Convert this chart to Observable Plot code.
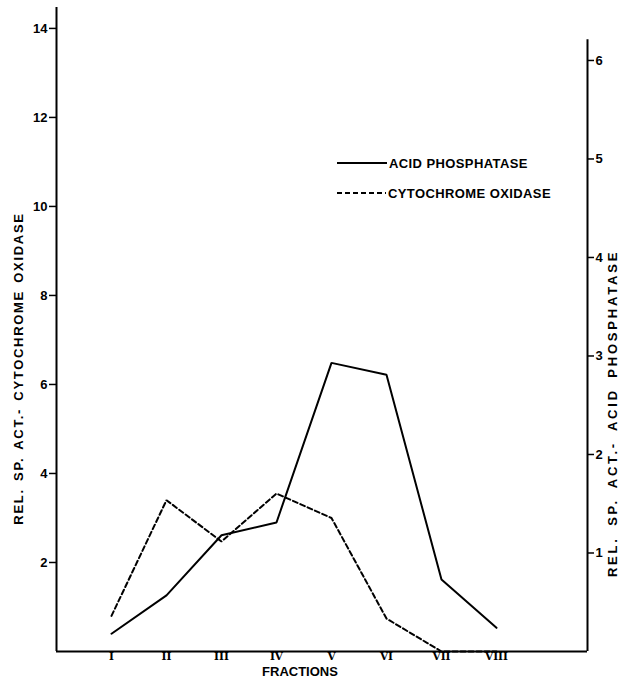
<!DOCTYPE html>
<html><head><meta charset="utf-8">
<script src="https://cdn.jsdelivr.net/npm/d3@7"></script>
<script src="https://cdn.jsdelivr.net/npm/@observablehq/plot@0.6"></script>
<style>body{margin:0;background:#fff}#chart{position:relative;width:622px;height:684px}</style>
</head><body><div id="chart"></div>
<script>
const fractions = ["I","II","III","IV","V","VI","VII","VIII"];
const acidPhosphatase = [0.18,0.57,1.18,1.31,2.93,2.81,0.73,0.24];   // right axis
const cytochromeOxidase = [0.8,3.4,2.47,3.55,3.0,0.74,0,0];          // left axis
const leftTicks = [2,4,6,8,10,12,14];
const rightTicks = [1,2,3,4,5,6];
const leftTitle = "REL. SP. ACT.- CYTOCHROME OXIDASE";
const rightTitle = "REL. SP. ACT.- ACID PHOSPHATASE";
const xTitle = "FRACTIONS";
const legendLabels = ["ACID PHOSPHATASE","CYTOCHROME OXIDASE"];

const leftMax = 14.47;     // left axis extent
const rightMax = 6.21;     // right axis extent (right units)
const k = 13.28 / 6;       // one right-axis unit in left-axis units
const xMax = 9.655;        // x position of right axis (fraction index units)

const cyto = fractions.map((f, i) => ({x: i + 1, y: cytochromeOxidase[i]}));
const acid = fractions.map((f, i) => ({x: i + 1, y: acidPhosphatase[i] * k}));

const font = "'Liberation Sans', Arial, sans-serif";

const chart = Plot.plot({
  width: 622, height: 684,
  marginTop: 7, marginBottom: 33, marginLeft: 56, marginRight: 35,
  style: {fontFamily: font, fontWeight: "bold", fontSize: "13px", color: "#000", background: "#fff"},
  x: {type: "linear", domain: [0, xMax]},
  y: {domain: [0, leftMax]},
  marks: [
    Plot.ruleX([0], {y1: 0, y2: leftMax, stroke: "#000", strokeWidth: 2}),
    Plot.ruleX([xMax], {y1: 0, y2: rightMax * k, stroke: "#000", strokeWidth: 2}),
    Plot.ruleY([0], {x1: 0, x2: xMax, stroke: "#000", strokeWidth: 2}),
    Plot.axisY(leftTicks, {anchor: "left", tickSize: 7, tickPadding: 2, label: null, strokeWidth: 1.5, fontSize: 13}),
    Plot.axisY(rightTicks.map(v => v * k), {anchor: "right", tickSize: 6, tickPadding: 2, label: null, strokeWidth: 1.5, fontSize: 13,
      tickFormat: d => String(Math.round(d / k))}),
    Plot.axisX(fractions.map((f, i) => i + 1), {anchor: "bottom", tickSize: 0, tickPadding: 1, label: null,
      tickFormat: d => fractions[d - 1], fontFamily: "'DejaVu Serif', serif", fontSize: 10.5}),
    Plot.line(cyto, {x: "x", y: "y", stroke: "#000", strokeWidth: 2, strokeDasharray: "5,3", strokeLinejoin: "miter"}),
    Plot.line(acid, {x: "x", y: "y", stroke: "#000", strokeWidth: 2, strokeLinejoin: "miter"}),
    Plot.text([leftTitle], {frameAnchor: "left", textAnchor: "middle", rotate: -90, dx: -38, dy: 39, fontSize: 13, fontWeight: "bold"}),
    Plot.text([rightTitle], {frameAnchor: "right", textAnchor: "middle", rotate: -90, dx: 25, dy: 84, fontSize: 13, fontWeight: "bold"}),
    Plot.text([xTitle], {frameAnchor: "bottom", dx: -22, dy: 24, fontSize: 13, fontWeight: "bold"})
  ]
});
document.getElementById("chart").appendChild(chart);

const svg = d3.select(chart);
// wider letter spacing for the rotated axis titles
svg.selectAll("text").filter(function() { return this.textContent === leftTitle; })
  .style("letter-spacing", "1.7px").style("word-spacing", "2px");
svg.selectAll("text").filter(function() { return this.textContent === rightTitle; })
  .style("letter-spacing", "2.8px").style("word-spacing", "4px");

// legend inside the plot area
const lg = svg.append("g").attr("font-family", font).attr("font-weight", "bold").attr("font-size", 13)
  .attr("text-anchor", "start");
const legendItems = [
  {label: legendLabels[0], dash: null, y: 163, x1: 337, x2: 387},
  {label: legendLabels[1], dash: "5,3", y: 193, x1: 337, x2: 386}
];
legendItems.forEach(d => {
  lg.append("line").attr("x1", d.x1).attr("x2", d.x2).attr("y1", d.y).attr("y2", d.y)
    .attr("stroke", "#000").attr("stroke-width", 2).attr("stroke-dasharray", d.dash);
  lg.append("text").attr("x", d.x2 + 2).attr("y", d.y).attr("dy", "0.35em")
    .style("letter-spacing", "0.4px").text(d.label);
});
</script>
</body></html>
